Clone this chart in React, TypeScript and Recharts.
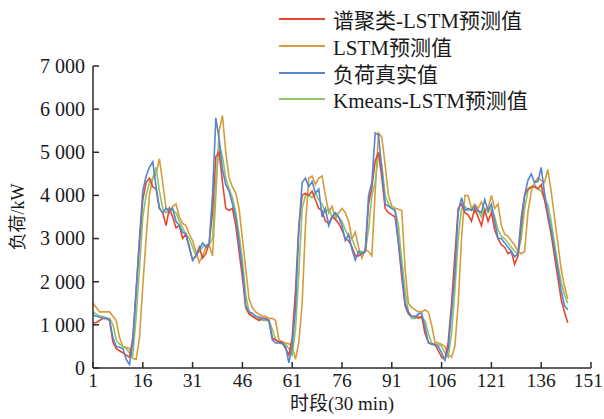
import React from 'react';
import { LineChart, Line, XAxis, YAxis, Label } from 'recharts';

const START = 1;
const COUNT = 144;

const trueLoad = [
  1230, 1200, 1180, 1150, 1150, 1100, 700, 500, 480, 450, 200, 80, 600, 1800, 3000, 4100,
  4450, 4650, 4780, 4200, 3700, 3600, 3700, 3650, 3700, 3400, 3300, 3150, 3100, 2800, 2500, 2600,
  2750, 2900, 2800, 2900, 4000, 5800, 5300, 4600, 4250, 4100, 3800, 3500, 2900, 2300, 1450, 1300,
  1270, 1200, 1180, 1150, 1130, 1100, 650, 580, 580, 560, 500, 120, 500, 1400, 3200, 4300,
  4400, 4200, 4320, 4050, 4150, 3500, 3700, 3300, 3500, 3600, 3500, 3300, 2950, 3100, 2750, 2500,
  2700, 2650, 2700, 4000, 4300, 5450, 5400, 4600, 3800, 3750, 3700, 3650, 2900, 2250, 1500, 1300,
  1200, 1180, 1250, 1270, 950, 580, 550, 530, 500, 350, 180, 450, 1300, 2200, 3600, 3950,
  3650, 3700, 3650, 3750, 3650, 3600, 3900, 3650, 3800, 3400, 3000, 3000, 2900, 2800, 2700, 2580,
  2650, 3500, 4000, 4350, 4500, 4300, 4320, 4650, 4050, 3600, 3200, 2750, 2300, 1800, 1450, 1350,
];

const lstmPred = [
  1500, 1400, 1300, 1300, 1300, 1300, 1200, 1100, 700, 500, 480, 450, 220, 200, 700, 1900,
  3000, 4000, 4400, 4500, 4850, 4300, 3700, 3600, 3750, 3800, 3500, 3350, 3300, 3100, 2950, 2700,
  2450, 2600, 2800, 2850, 2600, 4000, 5500, 5850, 5000, 4400, 4200, 4050, 3700, 3000, 2300, 1600,
  1400, 1300, 1250, 1200, 1200, 1150, 1150, 1100, 650, 600, 580, 560, 500, 200, 600, 1500,
  3300, 4400, 4450, 4250, 4400, 4450, 4000, 3600, 3750, 3450, 3600, 3700, 3600, 3400, 3000, 3150,
  2800, 2550, 2750, 2700, 2600, 4100, 5450, 5350, 4700, 4000, 3750, 3700, 3680, 3650, 2300, 1500,
  1400, 1350, 1300, 1300, 1350, 1300, 1000, 600, 580, 550, 500, 300, 250, 500, 1500, 3000,
  4000, 4000, 3700, 3800, 3700, 3850, 3650, 3700, 4000, 3700, 3800, 3300, 3100, 3050, 2950, 2850,
  2700, 2650, 2700, 3600, 4100, 4300, 4400, 4350, 4300, 4600, 4100, 3500, 2900, 2300, 1900, 1600,
];

const kmeansPred = [
  1300, 1250, 1200, 1200, 1150, 1150, 1000, 650, 550, 500, 450, 350, 300, 1200, 2300, 3500,
  4000, 4300, 4400, 4650, 4100, 3700, 3600, 3700, 3650, 3600, 3400, 3250, 3100, 3000, 2800, 2600,
  2700, 2800, 2850, 2850, 3000, 4300, 5200, 4900, 4400, 4150, 3950, 3600, 3100, 2500, 1700, 1300,
  1200, 1150, 1150, 1100, 1100, 1100, 900, 650, 600, 580, 550, 450, 300, 900, 2200, 3700,
  4000, 4000, 3950, 4050, 3900, 3800, 3600, 3700, 3500, 3550, 3500, 3400, 3200, 3050, 3000, 2800,
  2650, 2700, 2700, 3200, 4000, 4300, 5000, 4700, 4000, 3800, 3700, 3650, 3300, 2500, 1800, 1300,
  1150, 1150, 1200, 1150, 1100, 800, 580, 550, 550, 500, 350, 250, 800, 1800, 3000, 3700,
  3750, 3650, 3700, 3600, 3650, 3500, 3700, 3600, 3700, 3500, 3200, 3050, 3000, 2900, 2800, 2700,
  2650, 3000, 3700, 4100, 4200, 4250, 4150, 4100, 3900, 3800, 3400, 2900, 2400, 2000, 1700, 1500,
];

const spectralPred = [
  1050, 1050, 1100, 1150, 1150, 1100, 600, 450, 400, 350, 300, 250, 700, 1800, 2900, 3900,
  4300, 4400, 4200, 4150, 3700, 3600, 3300, 3700, 3500, 3250, 3300, 3000, 3100, 2800, 2500, 2600,
  2800, 2550, 2650, 2900, 3600, 4900, 5000, 4300, 3700, 3650, 3700, 3300, 2700, 2100, 1400, 1250,
  1200, 1150, 1100, 1150, 1150, 1100, 700, 650, 600, 600, 450, 300, 700, 1800, 3300, 4000,
  4050, 4000, 4100, 3900, 3700, 3650, 3400, 3350, 3500, 3450, 3350, 3200, 3000, 2950, 2800, 2600,
  2600, 2650, 2700, 3800, 4200, 4800, 5000, 4400, 3700, 3600, 3550, 3500, 2900, 2100, 1450, 1250,
  1200, 1200, 1150, 1200, 800, 600, 550, 550, 400, 250, 200, 600, 1500, 2600, 3700, 3800,
  3600, 3550, 3400, 3700, 3500, 3300, 3650, 3400, 3600, 3200, 3000, 2850, 2800, 2650, 2700, 2400,
  2600, 3300, 4000, 4150, 4200, 4200, 4150, 4250, 3900, 3500, 3100, 2600, 2100, 1600, 1300, 1050,
];

const xTicks = [1, 16, 31, 46, 61, 76, 91, 106, 121, 136, 151];
const yTicks = [0, 1000, 2000, 3000, 4000, 5000, 6000, 7000];

const series = [
  { key: 'spectral', name: '谱聚类-LSTM预测值', color: '#e5462f' },
  { key: 'lstm', name: 'LSTM预测值', color: '#d69b3a' },
  { key: 'real', name: '负荷真实值', color: '#5584d0' },
  { key: 'kmeans', name: 'Kmeans-LSTM预测值', color: '#8cc36b' },
];

const data = Array.from({ length: COUNT }, (_, i) => ({
  t: START + i,
  spectral: spectralPred[i],
  lstm: lstmPred[i],
  real: trueLoad[i],
  kmeans: kmeansPred[i],
}));

const SERIF = '"Liberation Serif", "Times New Roman", "Noto Sans CJK SC", serif';
const AXIS = '#2b2b2b';
const TICK_MARGIN_X = 4;
const TICK_MARGIN_Y = 8;
const CHART_W = 604;

const fmt = (v: number) => String(v).replace(/\B(?=(\d{3})+(?!\d))/g, ' ');

const XTick = (props: any) => {
  const { x, y, payload } = props;
  const ay = y - TICK_MARGIN_X;
  const fontSize = 19.5;
  const halfW = String(payload.value).length * fontSize * 0.25;
  const overflow = x + halfW > CHART_W - 1;
  return (
    <g>
      <line x1={x} y1={ay} x2={x} y2={ay - 6} stroke={AXIS} strokeWidth={1.5} />
      <text
        x={overflow ? CHART_W - 1 : x}
        y={y}
        dy="0.75em"
        textAnchor={overflow ? 'end' : 'middle'}
        fontSize={fontSize}
        fontFamily={SERIF}
        fill="#1a1a1a"
      >
        {payload.value}
      </text>
    </g>
  );
};

const YTick = (props: any) => {
  const { x, y, payload } = props;
  const ax = x + TICK_MARGIN_Y;
  return (
    <g>
      <line x1={ax} y1={y} x2={ax + 6} y2={y} stroke={AXIS} strokeWidth={1.5} />
      <text x={x} y={y} dy="0.34em" textAnchor="end" fontSize={20} fontFamily={SERIF} fill="#1a1a1a">
        {fmt(payload.value)}
      </text>
    </g>
  );
};

const LegendBox = () => (
  <div style={{ position: 'absolute', left: 279, top: 6, fontFamily: SERIF }}>
    {series.map((s) => (
      <div key={s.key} style={{ display: 'flex', alignItems: 'center', height: 26.7 }}>
        <svg width={46} height={6} style={{ marginRight: 8 }}>
          <line x1={0} y1={3} x2={46} y2={3} stroke={s.color} strokeWidth={2} />
        </svg>
        <span style={{ fontSize: 21, color: '#1a1a1a', whiteSpace: 'nowrap' }}>{s.name}</span>
      </div>
    ))}
  </div>
);

export default function App() {
  return (
    <div style={{ position: 'absolute', left: 0, top: 0, width: 604, height: 419, background: '#fff' }}>
      <LineChart width={604} height={419} data={data} margin={{ top: 66, right: 13, bottom: 0, left: 8 }}>
        <XAxis
          dataKey="t"
          type="number"
          domain={[1, 151]}
          ticks={xTicks}
          interval={0}
          height={51}
          tickSize={0}
          tickMargin={TICK_MARGIN_X}
          tick={<XTick />}
          tickLine={false}
          axisLine={{ stroke: AXIS, strokeWidth: 1.5 }}
        >
          <Label
            content={({ viewBox }: any) => (
              <text
                x={viewBox.x + viewBox.width / 2}
                y={viewBox.y + 42}
                textAnchor="middle"
                fontSize={19}
                fontFamily={SERIF}
                fill="#1a1a1a"
              >
                时段(30 min)
              </text>
            )}
          />
        </XAxis>
        <YAxis
          type="number"
          domain={[0, 7000]}
          ticks={yTicks}
          interval={0}
          width={85}
          tickSize={0}
          tickMargin={TICK_MARGIN_Y}
          tick={<YTick />}
          tickLine={false}
          axisLine={{ stroke: AXIS, strokeWidth: 1.5 }}
        >
          <Label
            content={({ viewBox }: any) => {
              const cx = 18;
              const cy = viewBox.y + viewBox.height / 2;
              return (
                <text
                  x={cx}
                  y={cy}
                  transform={`rotate(-90 ${cx} ${cy})`}
                  textAnchor="middle"
                  dominantBaseline="central"
                  fontSize={18}
                  fontFamily={SERIF}
                  fill="#1a1a1a"
                >
                  负荷/kW
                </text>
              );
            }}
          />
        </YAxis>
        <Line dataKey="lstm" name="LSTM预测值" stroke="#d69b3a" strokeWidth={1.6} dot={false} isAnimationActive={false} />
        <Line dataKey="kmeans" name="Kmeans-LSTM预测值" stroke="#8cc36b" strokeWidth={1.6} dot={false} isAnimationActive={false} />
        <Line dataKey="spectral" name="谱聚类-LSTM预测值" stroke="#e5462f" strokeWidth={1.6} dot={false} isAnimationActive={false} />
        <Line dataKey="real" name="负荷真实值" stroke="#5584d0" strokeWidth={1.6} dot={false} isAnimationActive={false} />
      </LineChart>
      <LegendBox />
    </div>
  );
}
